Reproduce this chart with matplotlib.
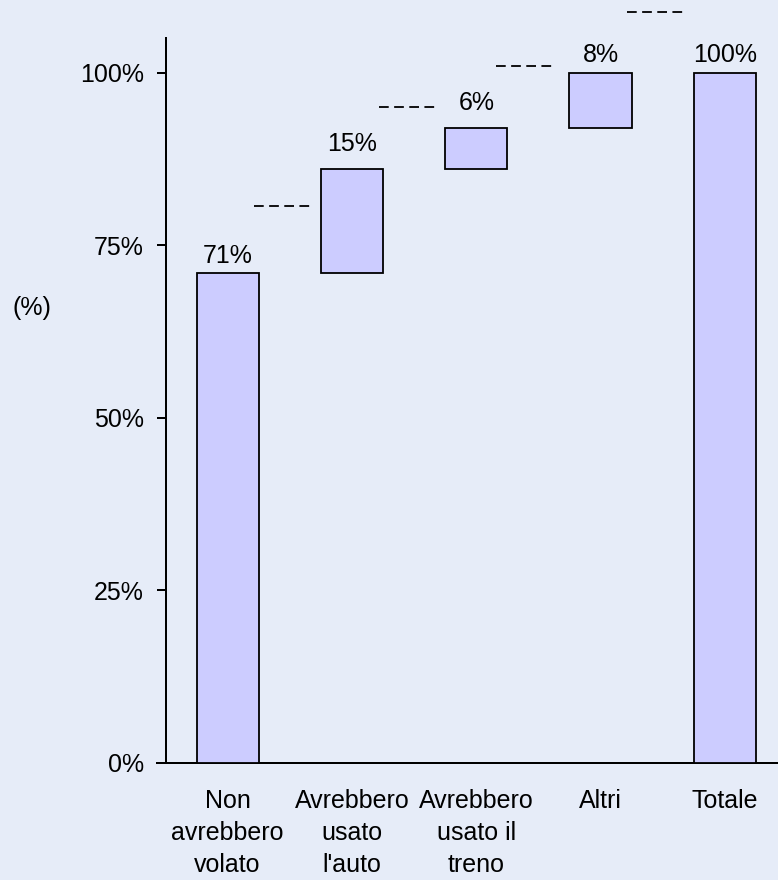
import matplotlib
matplotlib.use("Agg")
import matplotlib.pyplot as plt
from matplotlib.ticker import FixedLocator, FuncFormatter

# ---- data ----
categories = ["Non\navrebbero\nvolato", "Avrebbero\nusato\nl'auto",
              "Avrebbero\nusato il\ntreno", "Altri", "Totale"]
bar_bottoms = [0, 71, 86, 92, 0]
bar_heights = [71, 15, 6, 8, 100]
value_labels = ["71%", "15%", "6%", "8%", "100%"]
connector_levels = [80.7, 95.1, 101.0, 108.8]
y_ticks = [0, 25, 50, 75, 100]

# ---- style ----
BG = "#E6ECF8"
FILL = "#CCCCFF"
FS = 18
plt.rcParams['font.family'] = ['Liberation Sans', 'DejaVu Sans']
plt.rcParams['lines.scale_dashes'] = False

W, H = 778, 880
fig = plt.figure(figsize=(W / 100, H / 100), dpi=100, facecolor=BG)
left_px, right_px, bottom_px, top_px = 165.5, 787, 762.7, 38
ax = fig.add_axes([left_px / W, 1 - bottom_px / H,
                   (right_px - left_px) / W, (bottom_px - top_px) / H])
ax.set_facecolor(BG)

x = list(range(len(categories)))
ax.bar(x, bar_heights, bottom=bar_bottoms, width=0.5, color=FILL,
       edgecolor="black", linewidth=1.3, zorder=3)

# value labels
label_gap_px = [5, 13, 13, 6, 6]
for i, (b, h, lab) in enumerate(zip(bar_bottoms, bar_heights, value_labels)):
    ax.annotate(lab, xy=(i, b + h), xytext=(0, label_gap_px[i] * 0.72),
                textcoords="offset points", ha="center", va="bottom",
                fontsize=FS, color="black")

# dashed connectors
conn_shift = [0, 0, -0.06, 0]
for i, lvl in enumerate(connector_levels):
    x0 = i + 0.215 + conn_shift[i]
    x1 = i + 0.69 + conn_shift[i]
    ax.plot([x0, x1], [lvl, lvl], color="black", linewidth=1.3,
            dashes=(7.0, 3.9), clip_on=False, zorder=4)

ax.set_xlim(-0.5, 4.5)
ax.set_ylim(0, (bottom_px - top_px) / 6.9)
ax.yaxis.set_major_locator(FixedLocator(y_ticks))
ax.yaxis.set_major_formatter(FuncFormatter(lambda v, p: f"{int(v)}%"))
ax.set_xticks(x)
ax.set_xticklabels(categories, fontsize=FS, linespacing=1.42)
ax.tick_params(axis="x", length=0, pad=19)
ax.tick_params(axis="y", length=6.5, width=1.44, pad=9, labelsize=FS,
               direction="out")

for s in ["top", "right"]:
    ax.spines[s].set_visible(False)
for s in ["left", "bottom"]:
    ax.spines[s].set_linewidth(1.44)
ax.spines["bottom"].set_bounds(-0.565, 4.5)

fig.text(13 / W, 1 - 308 / H, "(%)", ha="left", va="center", fontsize=FS)

fig.savefig("out.png", dpi=100, facecolor=BG)
